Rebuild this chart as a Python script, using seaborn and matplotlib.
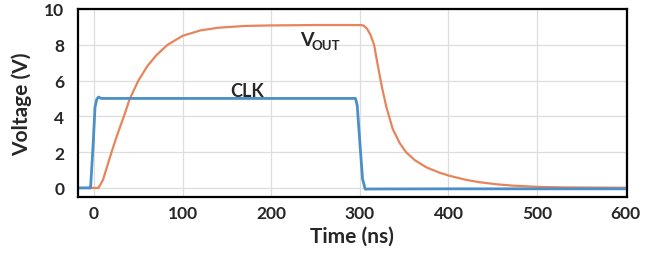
import matplotlib
matplotlib.use('Agg')
import matplotlib.pyplot as plt
import seaborn as sns
import pandas as pd

# Waveform data
clk_t = [-18, -4, -1, 1, 3, 5, 8, 15, 100, 200, 295, 297, 300, 303, 306, 310, 400, 500, 600]
clk_v = [0, 0, 2.5, 4.5, 4.95, 5.08, 5.0, 5.0, 5.0, 5.0, 5.0, 4.6, 2.5, 0.5, -0.07, -0.06, -0.05, -0.05, -0.05]

vout_t = [-18, 5, 10, 15, 20, 25, 30, 35, 40, 50, 60, 70, 83, 100, 120, 140, 170, 200, 250, 300,
          304, 308, 312, 316, 320, 325, 330, 337, 345, 352, 362, 375, 390, 401, 420, 435, 455,
          472, 500, 530, 560, 600]
vout_v = [0, 0, 0.45, 1.25, 2.05, 2.8, 3.5, 4.2, 4.95, 6.0, 6.8, 7.4, 8.0, 8.5, 8.8, 8.95, 9.05,
          9.08, 9.1, 9.1, 9.08, 8.9, 8.55, 8.0, 6.9, 5.6, 4.5, 3.3, 2.5, 2.0, 1.55, 1.15, 0.85,
          0.68, 0.45, 0.32, 0.2, 0.13, 0.06, 0.03, 0.02, 0.01]

x_ticks = [0, 100, 200, 300, 400, 500, 600]
y_ticks = [0, 2, 4, 6, 8, 10]

clk_df = pd.DataFrame({'t': clk_t, 'v': clk_v})
vout_df = pd.DataFrame({'t': vout_t, 'v': vout_v})

sns.set_style('whitegrid')
plt.rcParams['font.family'] = ['Lato', 'DejaVu Sans']

fig = plt.figure(figsize=(6.68, 2.55), dpi=100)
ax = fig.add_axes([0.117, 0.224, 0.821, 0.737])

sns.lineplot(data=vout_df, x='t', y='v', color='#E8845C', linewidth=1.6, ax=ax)
sns.lineplot(data=clk_df, x='t', y='v', color='#4A90C6', linewidth=2.0, ax=ax)

ax.set_xlim(-18, 601)
ax.set_ylim(-0.5, 10)
ax.set_xticks(x_ticks)
ax.set_yticks(y_ticks)
ax.tick_params(axis='y', labelsize=12.5, length=0, pad=10)
ax.tick_params(axis='x', labelsize=12.5, length=0, pad=6)
for lbl in ax.get_xticklabels() + ax.get_yticklabels():
    lbl.set_fontweight('bold')

ax.set_xlabel('Time (ns)', fontsize=15, fontweight='bold', labelpad=3)
ax.set_ylabel('Voltage (V)', fontsize=15, fontweight='bold', labelpad=9)

ax.grid(True, color='#DDDDDD', linewidth=0.9)
for s in ax.spines.values():
    s.set_color('black')
    s.set_linewidth(1.6)

ax.text(232, 8.3, 'V', fontsize=14, fontweight='bold', va='center', ha='left')
ax.text(245, 8.0, 'OUT', fontsize=9.5, fontweight='bold', va='center', ha='left')
ax.text(154, 5.12, 'CLK', fontsize=13, fontweight='bold', va='baseline', ha='left')

fig.savefig('out.png', dpi=100)
